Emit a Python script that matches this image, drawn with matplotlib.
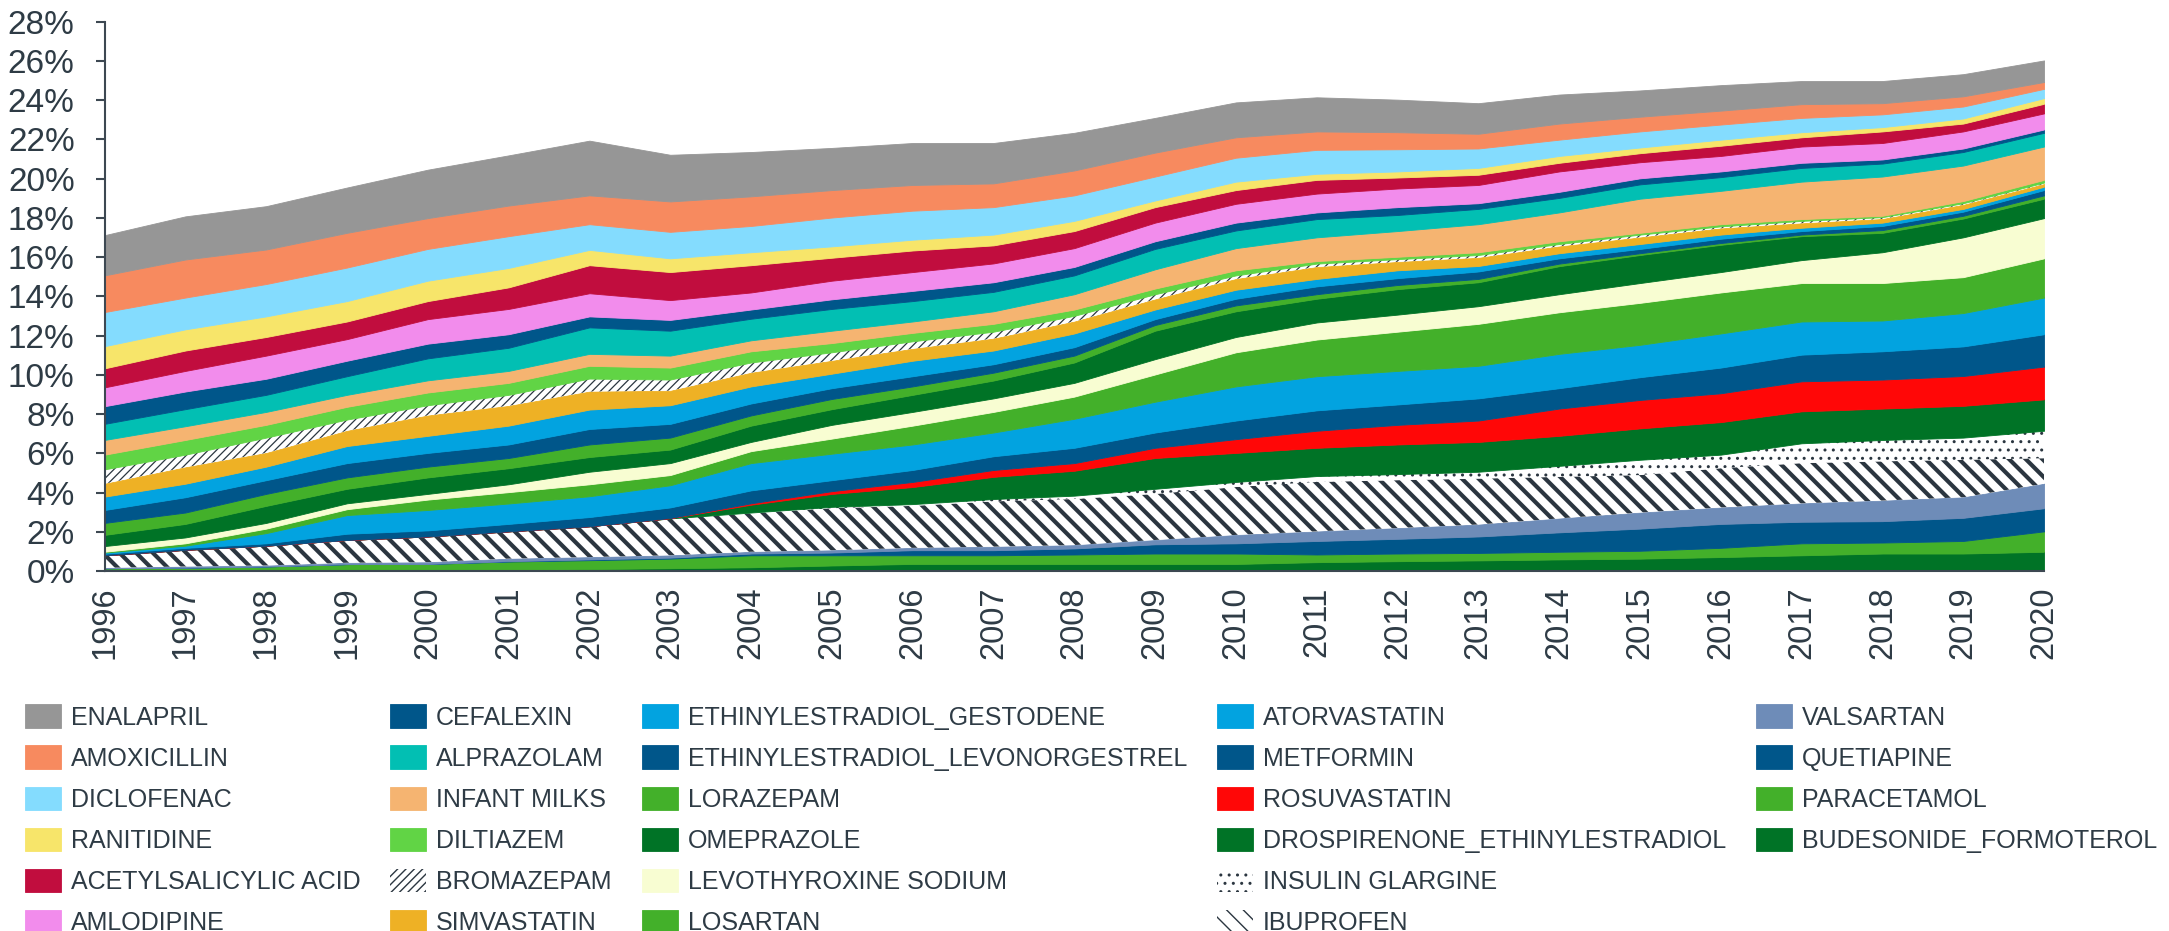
import matplotlib
matplotlib.use("Agg")
import matplotlib as mpl
import matplotlib.pyplot as plt
from matplotlib.patches import Patch
import numpy as np

plt.rcParams['font.family'] = ['Liberation Sans', 'DejaVu Sans']
plt.rcParams['hatch.color'] = '#2b3640'

years = [1996, 1997, 1998, 1999, 2000, 2001, 2002, 2003, 2004, 2005, 2006, 2007, 2008,
         2009, 2010, 2011, 2012, 2013, 2014, 2015, 2016, 2017, 2018, 2019, 2020]

# share of consumption, %
enalapril = [2.05, 2.20, 2.21, 2.31, 2.47, 2.56, 2.79, 2.38, 2.26, 2.15, 2.14, 2.06, 1.92, 1.77, 1.78, 1.74, 1.66, 1.56, 1.48, 1.34, 1.30, 1.18, 1.13, 1.13, 1.10]
amoxicillin = [1.87, 1.94, 1.76, 1.77, 1.57, 1.56, 1.47, 1.55, 1.51, 1.40, 1.31, 1.21, 1.27, 1.22, 1.04, 0.94, 0.87, 0.75, 0.82, 0.75, 0.71, 0.70, 0.57, 0.52, 0.35]
diclofenac = [1.74, 1.62, 1.65, 1.71, 1.62, 1.62, 1.31, 1.35, 1.34, 1.47, 1.48, 1.40, 1.30, 1.22, 1.22, 1.22, 1.13, 0.99, 0.83, 0.82, 0.77, 0.73, 0.65, 0.61, 0.47]
ranitidine = [1.13, 1.08, 1.05, 1.04, 1.04, 0.99, 0.78, 0.70, 0.66, 0.58, 0.55, 0.55, 0.52, 0.34, 0.43, 0.31, 0.31, 0.35, 0.35, 0.29, 0.31, 0.26, 0.22, 0.26, 0.29]
acetylsalicylic = [0.97, 1.04, 0.95, 0.90, 0.92, 1.10, 1.43, 1.43, 1.39, 1.17, 1.10, 0.92, 0.87, 0.79, 0.70, 0.70, 0.56, 0.52, 0.44, 0.46, 0.52, 0.47, 0.59, 0.40, 0.49]
amlodipine = [0.96, 1.05, 1.18, 1.10, 1.25, 1.29, 1.18, 1.01, 0.87, 0.95, 0.96, 0.96, 0.96, 0.95, 0.96, 0.96, 0.95, 0.93, 1.04, 0.82, 0.79, 0.83, 0.84, 0.87, 0.82]
cefalexin = [0.90, 0.90, 0.82, 0.79, 0.75, 0.69, 0.56, 0.55, 0.47, 0.49, 0.52, 0.49, 0.43, 0.39, 0.40, 0.34, 0.40, 0.29, 0.31, 0.31, 0.29, 0.26, 0.21, 0.18, 0.17]
alprazolam = [0.82, 0.87, 0.87, 0.95, 1.12, 1.18, 1.35, 1.27, 1.10, 1.11, 1.04, 0.99, 0.96, 1.04, 0.90, 0.93, 0.82, 0.78, 0.74, 0.73, 0.70, 0.70, 0.66, 0.69, 0.70]
infant_milks = [0.75, 0.70, 0.66, 0.61, 0.62, 0.61, 0.61, 0.61, 0.56, 0.63, 0.58, 0.64, 0.78, 0.98, 1.13, 1.21, 1.31, 1.43, 1.47, 1.74, 1.70, 1.91, 2.00, 1.81, 1.70]
diltiazem = [0.75, 0.75, 0.65, 0.65, 0.65, 0.61, 0.65, 0.61, 0.57, 0.47, 0.43, 0.40, 0.32, 0.29, 0.26, 0.13, 0.12, 0.14, 0.14, 0.09, 0.11, 0.09, 0.07, 0.11, 0.14]
bromazepam = [0.73, 0.64, 0.78, 0.57, 0.52, 0.56, 0.66, 0.57, 0.52, 0.43, 0.38, 0.35, 0.29, 0.26, 0.18, 0.17, 0.14, 0.14, 0.12, 0.14, 0.10, 0.12, 0.09, 0.08, 0.07]
simvastatin = [0.66, 0.84, 0.70, 0.78, 1.04, 1.01, 0.92, 0.74, 0.70, 0.66, 0.61, 0.61, 0.61, 0.52, 0.55, 0.61, 0.43, 0.42, 0.35, 0.34, 0.32, 0.23, 0.19, 0.21, 0.14]
eth_gestodene = [0.68, 0.69, 0.69, 0.87, 0.87, 0.96, 0.99, 0.95, 0.87, 0.74, 0.79, 0.70, 0.70, 0.49, 0.46, 0.38, 0.40, 0.28, 0.26, 0.25, 0.21, 0.17, 0.17, 0.14, 0.17]
eth_levonorgestrel = [0.66, 0.78, 0.70, 0.73, 0.70, 0.69, 0.79, 0.70, 0.61, 0.55, 0.52, 0.43, 0.43, 0.30, 0.34, 0.40, 0.35, 0.38, 0.27, 0.22, 0.22, 0.18, 0.21, 0.21, 0.27]
lorazepam = [0.61, 0.58, 0.61, 0.58, 0.55, 0.52, 0.64, 0.61, 0.52, 0.52, 0.43, 0.40, 0.35, 0.29, 0.30, 0.23, 0.21, 0.17, 0.13, 0.09, 0.09, 0.08, 0.14, 0.14, 0.17]
omeprazole = [0.57, 0.69, 0.87, 0.74, 0.84, 0.82, 0.75, 0.69, 0.83, 0.80, 0.87, 0.91, 1.04, 1.45, 1.31, 1.21, 1.30, 1.22, 1.43, 1.43, 1.39, 1.22, 0.99, 0.96, 0.99]
levothyroxine = [0.29, 0.30, 0.29, 0.30, 0.29, 0.40, 0.64, 0.61, 0.47, 0.70, 0.70, 0.69, 0.70, 0.78, 0.78, 0.87, 0.87, 0.90, 0.92, 1.01, 1.04, 1.17, 1.57, 2.03, 2.05]
losartan = [0.04, 0.12, 0.23, 0.30, 0.53, 0.58, 0.61, 0.52, 0.61, 0.77, 0.96, 1.05, 1.13, 1.39, 1.74, 1.87, 2.00, 2.14, 2.12, 2.14, 2.09, 1.96, 1.91, 1.83, 2.00]
atorvastatin = [0.06, 0.11, 0.52, 0.95, 1.04, 1.04, 1.06, 1.13, 1.39, 1.35, 1.30, 1.21, 1.48, 1.57, 1.74, 1.74, 1.71, 1.66, 1.75, 1.65, 1.74, 1.69, 1.57, 1.70, 1.87]
metformin = [0.08, 0.10, 0.12, 0.32, 0.31, 0.38, 0.47, 0.54, 0.66, 0.56, 0.61, 0.70, 0.78, 0.78, 0.95, 1.04, 1.04, 1.13, 1.04, 1.16, 1.31, 1.36, 1.44, 1.51, 1.65]
rosuvastatin = [0, 0, 0, 0, 0, 0, 0, 0.01, 0.07, 0.14, 0.26, 0.35, 0.39, 0.52, 0.70, 0.87, 1.00, 1.09, 1.39, 1.45, 1.47, 1.53, 1.48, 1.52, 1.67]
drospirenone = [0, 0, 0, 0, 0, 0, 0, 0.01, 0.40, 0.66, 0.87, 1.13, 1.27, 1.57, 1.48, 1.44, 1.51, 1.52, 1.53, 1.60, 1.66, 1.63, 1.60, 1.62, 1.60]
insulin_glargine = [0, 0, 0, 0, 0, 0, 0, 0, 0.03, 0.07, 0.09, 0.12, 0.17, 0.26, 0.26, 0.30, 0.31, 0.35, 0.56, 0.78, 0.69, 1.01, 1.09, 1.13, 1.40]
ibuprofen = [0.64, 0.85, 1.01, 1.16, 1.31, 1.39, 1.57, 1.88, 1.97, 2.14, 2.14, 2.31, 2.35, 2.35, 2.44, 2.52, 2.44, 2.34, 2.12, 1.91, 2.00, 2.05, 2.00, 1.91, 1.30]
valsartan = [0.02, 0.06, 0.05, 0.07, 0.09, 0.13, 0.12, 0.12, 0.09, 0.12, 0.12, 0.18, 0.17, 0.22, 0.43, 0.49, 0.55, 0.61, 0.71, 0.82, 0.84, 0.94, 1.05, 1.05, 1.25]
quetiapine = [0, 0, 0, 0, 0, 0.02, 0.04, 0.05, 0.09, 0.14, 0.26, 0.26, 0.31, 0.47, 0.52, 0.69, 0.75, 0.84, 0.99, 1.13, 1.22, 1.10, 1.09, 1.18, 1.18]
paracetamol = [0.14, 0.17, 0.23, 0.35, 0.36, 0.43, 0.45, 0.49, 0.61, 0.52, 0.44, 0.44, 0.48, 0.53, 0.53, 0.39, 0.39, 0.38, 0.39, 0.40, 0.47, 0.61, 0.56, 0.64, 1.04]
budesonide = [0, 0, 0, 0, 0, 0.05, 0.10, 0.14, 0.19, 0.28, 0.36, 0.36, 0.36, 0.36, 0.36, 0.45, 0.50, 0.54, 0.59, 0.63, 0.71, 0.80, 0.89, 0.89, 0.98]

# stacking order, bottom -> top: (label, values, color, hatch)
dblue = '#00568a'
green = '#43b02a'
dgreen = '#007326'
layers = [
    ('BUDESONIDE_FORMOTEROL', budesonide, dgreen, None),
    ('PARACETAMOL', paracetamol, green, None),
    ('QUETIAPINE', quetiapine, dblue, None),
    ('VALSARTAN', valsartan, '#6e8cb8', None),
    ('IBUPROFEN', ibuprofen, 'white', '\\\\'),
    ('INSULIN GLARGINE', insulin_glargine, 'white', '..'),
    ('DROSPIRENONE_ETHINYLESTRADIOL', drospirenone, dgreen, None),
    ('ROSUVASTATIN', rosuvastatin, '#ff0707', None),
    ('METFORMIN', metformin, dblue, None),
    ('ATORVASTATIN', atorvastatin, '#02a3e0', None),
    ('LOSARTAN', losartan, green, None),
    ('LEVOTHYROXINE SODIUM', levothyroxine, '#f8fdd2', None),
    ('OMEPRAZOLE', omeprazole, dgreen, None),
    ('LORAZEPAM', lorazepam, green, None),
    ('ETHINYLESTRADIOL_LEVONORGESTREL', eth_levonorgestrel, dblue, None),
    ('ETHINYLESTRADIOL_GESTODENE', eth_gestodene, '#02a3e0', None),
    ('SIMVASTATIN', simvastatin, '#eeb125', None),
    ('BROMAZEPAM', bromazepam, 'white', '////'),
    ('DILTIAZEM', diltiazem, '#61d445', None),
    ('INFANT MILKS', infant_milks, '#f5b471', None),
    ('ALPRAZOLAM', alprazolam, '#02bfb3', None),
    ('CEFALEXIN', cefalexin, dblue, None),
    ('AMLODIPINE', amlodipine, '#f28cec', None),
    ('ACETYLSALICYLIC ACID', acetylsalicylic, '#c10d3e', None),
    ('RANITIDINE', ranitidine, '#f7e56a', None),
    ('DICLOFENAC', diclofenac, '#84dcfe', None),
    ('AMOXICILLIN', amoxicillin, '#f78a5f', None),
    ('ENALAPRIL', enalapril, '#969696', None),
]

hatch_lw = {'\\\\': 3.0, '..': 1.0, '////': 0.9}
txt = '#2e3b45'

fig = plt.figure(figsize=(21.69, 9.31), dpi=100)
ax = fig.add_axes([0.0482, 0.3867, 0.8942, 0.5899])

x = np.array(years)
base = np.zeros(len(years))
handles = []
for label, vals, color, hatch in layers:
    top = base + np.array(vals)
    if hatch:
        with mpl.rc_context({'hatch.linewidth': hatch_lw[hatch]}):
            h = ax.fill_between(x, base, top, facecolor='white', edgecolor='#2b3640',
                                hatch=hatch, linewidth=0, label=label)
        if hasattr(h, 'set_hatch_linewidth'):
            h.set_hatch_linewidth(hatch_lw[hatch])
    else:
        h = ax.fill_between(x, base, top, facecolor=color, edgecolor=color,
                            linewidth=0.6, label=label)
    handles.append(h)
    base = top

ax.set_xlim(1996, 2020)
ax.set_ylim(0, 28)
ax.set_yticks(range(0, 29, 2))
ax.set_yticklabels([f'{v}%' for v in range(0, 29, 2)])
ax.set_xticks(years)
ax.set_xticklabels([str(y) for y in years], rotation=90)

for s in ['top', 'right']:
    ax.spines[s].set_visible(False)
for s in ['left', 'bottom']:
    ax.spines[s].set_color('#3d4852')
    ax.spines[s].set_linewidth(1.5)
ax.tick_params(axis='y', direction='out', length=6.5, width=1.5, color='#3d4852',
               labelsize=24, labelcolor=txt, pad=15)
ax.tick_params(axis='x', length=0, labelsize=23.5, labelcolor=txt, pad=11)

# legend: top of the stack first, 6 rows per column (two empty slots at the end)
leg_handles = handles[::-1] + [Patch(visible=False), Patch(visible=False)]
leg_labels = [l[0] for l in layers][::-1] + ['', '']
leg = fig.legend(leg_handles, leg_labels, ncol=5,
                 loc='upper left', bbox_to_anchor=(0.0113, 0.2435),
                 frameon=False, fontsize=18, handlelength=1.44, handleheight=1.08,
                 handletextpad=0.4, columnspacing=1.2, labelspacing=0.63,
                 borderpad=0, borderaxespad=0)
for t in leg.get_texts():
    t.set_color(txt)

fig.savefig('out.png', dpi=100, facecolor='white')
